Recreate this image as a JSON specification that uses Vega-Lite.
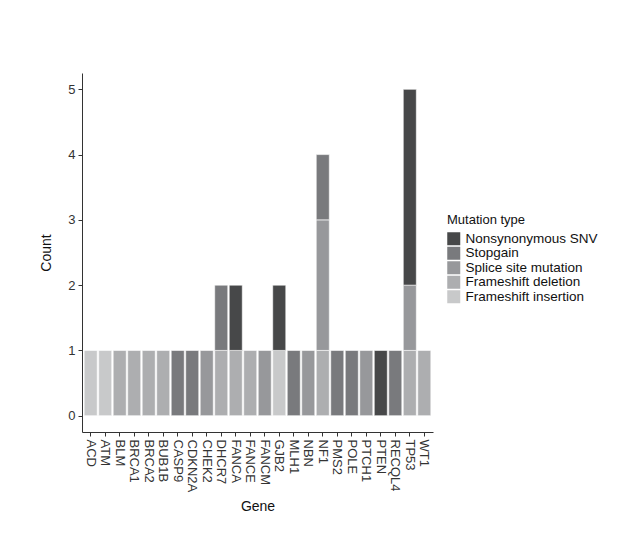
{
  "$schema": "https://vega.github.io/schema/vega-lite/v6.json",
  "width": 351,
  "height": 359,
  "autosize": {"type": "none"},
  "padding": {"left": 82, "top": 73, "right": 195, "bottom": 108},
  "background": "white",
  "config": {
    "view": {"stroke": null},
    "font": "Liberation Sans",
    "axis": {"grid": false, "domainColor": "#333333", "tickColor": "#333333", "labelColor": "#333333", "titleColor": "#111111", "labelFontSize": 13, "titleFontSize": 14, "titleFontWeight": "normal", "tickSize": 4, "domainWidth": 1, "tickWidth": 1}
  },
  "datasets": {
    "types": [
      {"type": "Frameshift insertion", "rank": 1},
      {"type": "Frameshift deletion", "rank": 2},
      {"type": "Splice site mutation", "rank": 3},
      {"type": "Stopgain", "rank": 4},
      {"type": "Nonsynonymous SNV", "rank": 5}
    ]
  },
  "data": {
    "values": [
      {"gene": "ACD", "type": "Frameshift insertion", "count": 1},
      {"gene": "ATM", "type": "Frameshift insertion", "count": 1},
      {"gene": "BLM", "type": "Frameshift deletion", "count": 1},
      {"gene": "BRCA1", "type": "Frameshift deletion", "count": 1},
      {"gene": "BRCA2", "type": "Frameshift deletion", "count": 1},
      {"gene": "BUB1B", "type": "Frameshift deletion", "count": 1},
      {"gene": "CASP9", "type": "Stopgain", "count": 1},
      {"gene": "CDKN2A", "type": "Stopgain", "count": 1},
      {"gene": "CHEK2", "type": "Splice site mutation", "count": 1},
      {"gene": "DHCR7", "type": "Frameshift deletion", "count": 1},
      {"gene": "DHCR7", "type": "Stopgain", "count": 1},
      {"gene": "FANCA", "type": "Frameshift deletion", "count": 1},
      {"gene": "FANCA", "type": "Nonsynonymous SNV", "count": 1},
      {"gene": "FANCE", "type": "Frameshift deletion", "count": 1},
      {"gene": "FANCM", "type": "Splice site mutation", "count": 1},
      {"gene": "GJB2", "type": "Frameshift insertion", "count": 1},
      {"gene": "GJB2", "type": "Nonsynonymous SNV", "count": 1},
      {"gene": "MLH1", "type": "Stopgain", "count": 1},
      {"gene": "NBN", "type": "Splice site mutation", "count": 1},
      {"gene": "NF1", "type": "Frameshift deletion", "count": 1},
      {"gene": "NF1", "type": "Splice site mutation", "count": 2},
      {"gene": "NF1", "type": "Stopgain", "count": 1},
      {"gene": "PMS2", "type": "Stopgain", "count": 1},
      {"gene": "POLE", "type": "Stopgain", "count": 1},
      {"gene": "PTCH1", "type": "Splice site mutation", "count": 1},
      {"gene": "PTEN", "type": "Nonsynonymous SNV", "count": 1},
      {"gene": "RECQL4", "type": "Stopgain", "count": 1},
      {"gene": "TP53", "type": "Frameshift deletion", "count": 1},
      {"gene": "TP53", "type": "Splice site mutation", "count": 1},
      {"gene": "TP53", "type": "Nonsynonymous SNV", "count": 3},
      {"gene": "WT1", "type": "Frameshift deletion", "count": 1}
    ]
  },
  "transform": [
    {"lookup": "type", "from": {"data": {"name": "types"}, "key": "type", "fields": ["rank"]}}
  ],
  "mark": {"type": "bar", "stroke": "white", "strokeWidth": 0.6},
  "encoding": {
    "x": {
      "field": "gene", "type": "nominal", "title": "Gene",
      "scale": {"paddingInner": 0.1, "paddingOuter": 0.15},
      "axis": {"labelAngle": 90, "labelAlign": "left", "labelBaseline": "middle", "labelPadding": 3, "titlePadding": 8}
    },
    "y": {
      "field": "count", "type": "quantitative", "aggregate": "sum", "title": "Count",
      "scale": {"domain": [-0.25, 5.25], "nice": false, "zero": false},
      "axis": {"values": [0, 1, 2, 3, 4, 5], "labelPadding": 3, "titlePadding": 14}
    },
    "color": {
      "field": "type", "type": "nominal", "title": "Mutation type",
      "scale": {
        "domain": ["Nonsynonymous SNV", "Stopgain", "Splice site mutation", "Frameshift deletion", "Frameshift insertion"],
        "range": ["#474849", "#797a7d", "#97989b", "#adaeb0", "#c8c9ca"]
      },
      "legend": {
        "orient": "none", "legendX": 365, "legendY": 141,
        "symbolType": "square", "symbolSize": 169, "symbolStrokeWidth": 0,
        "labelFontSize": 13.5, "titleFontSize": 13, "titleFontWeight": "normal",
        "labelColor": "#111111", "titleColor": "#111111",
        "rowPadding": -0.5, "labelOffset": 5, "titlePadding": 5, "labelLimit": 200
      }
    },
    "order": {"field": "rank", "type": "quantitative", "aggregate": "min", "sort": "ascending"}
  }
}
